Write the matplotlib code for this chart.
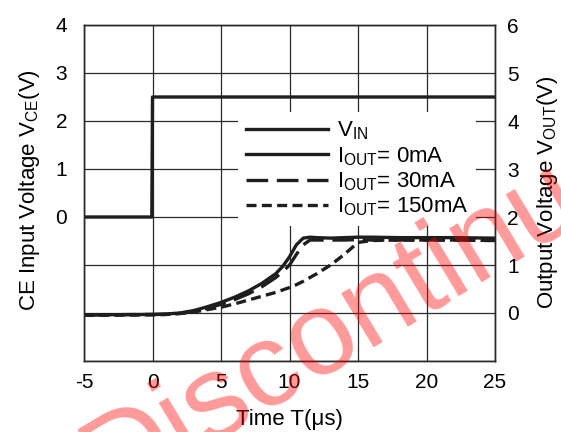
import matplotlib
matplotlib.use("Agg")
import matplotlib.pyplot as plt

plt.rcParams['font.family'] = ['Liberation Sans', 'DejaVu Sans']
plt.rcParams['mathtext.fontset'] = 'custom'
plt.rcParams['mathtext.rm'] = 'Liberation Sans'

# ---- data ----
t_vin = [-5, -0.05, 0.0, 25]
v_in = [0, 0, 2.5, 2.5]

t_out = [-5, 0, 1, 2, 3, 4, 5, 6, 7, 8, 9, 9.5, 10, 10.5, 11, 11.5, 12, 13, 14, 15, 16, 18, 20, 22, 25]
vout_0mA = [-0.04, -0.03, -0.02, 0.0, 0.05, 0.13, 0.22, 0.33, 0.46, 0.62, 0.82, 0.97, 1.17, 1.42, 1.56, 1.58,
            1.57, 1.56, 1.57, 1.58, 1.58, 1.57, 1.57, 1.57, 1.56]
vout_30mA = [-0.04, -0.03, -0.03, -0.01, 0.03, 0.10, 0.18, 0.28, 0.40, 0.55, 0.74, 0.86, 1.0, 1.22, 1.42, 1.52,
             1.52, 1.52, 1.52, 1.53, 1.52, 1.52, 1.52, 1.52, 1.51]
vout_150mA = [-0.05, -0.04, -0.03, -0.01, 0.02, 0.07, 0.12, 0.19, 0.27, 0.35, 0.43, 0.48, 0.53, 0.59, 0.66, 0.74,
              0.82, 1.0, 1.22, 1.47, 1.51, 1.52, 1.52, 1.52, 1.51]

x_ticks = [-5, 0, 5, 10, 15, 20, 25]
left_ticks = [-3, -2, -1, 0, 1, 2, 3, 4]
left_labels = ['', '', '', '0', '1', '2', '3', '4']
right_ticks = [-1, 0, 1, 2, 3, 4, 5, 6]
right_labels = ['', '0', '1', '2', '3', '4', '5', '6']

legend_labels = [r'V$_{\mathregular{IN}}$', r'I$_{\mathregular{OUT}}$= 0mA',
                 r'I$_{\mathregular{OUT}}$= 30mA', r'I$_{\mathregular{OUT}}$= 150mA']

# ---- figure ----
W, H = 561, 432
fig = plt.figure(figsize=(W / 100, H / 100), dpi=100)
ax = fig.add_axes([84 / W, 71 / H, 411 / W, 336 / H])
ax2 = ax.twinx()

lc = '#1e1e1e'
gc = '#2a2a2a'

ax.set_xlim(-5, 25)
ax.set_ylim(-3, 4)
ax2.set_ylim(-1, 6)
ax.set_xticks(x_ticks)
ax.set_xticklabels([str(v) for v in x_ticks])
ax.set_yticks(left_ticks)
ax.set_yticklabels(left_labels)
ax2.set_yticks(right_ticks)
ax2.set_yticklabels(right_labels)
ax.grid(True, color=gc, linewidth=0.9)
ax.set_axisbelow(True)
for a in (ax, ax2):
    a.tick_params(length=0, labelsize=15, colors='black')
    for s in a.spines.values():
        s.set_color(gc)
        s.set_linewidth(1.0)
ax.tick_params(axis='y', pad=12)
ax.tick_params(axis='x', pad=9)
ax2.tick_params(axis='y', pad=9)

lw = 2.4
h_vin, = ax.plot(t_vin, v_in, color=lc, lw=lw, solid_joinstyle='round')
h0, = ax2.plot(t_out, vout_0mA, color=lc, lw=lw, solid_joinstyle='round')
h30, = ax2.plot(t_out, vout_30mA, color=lc, lw=lw, linestyle=(0, (6.5, 2.6)))
h150, = ax2.plot(t_out, vout_150mA, color=lc, lw=lw, linestyle=(0, (3.0, 1.6)))

ax.set_xlabel(u'Time T(\u03bcs)', fontsize=16, labelpad=12)
fig.text(30 / W, 1 - 190 / H, r'CE Input Voltage V$_{\mathregular{CE}}$(V)', rotation=90,
         ha='center', va='center', fontsize=16)
fig.text(548 / W, 1 - 192 / H, r'Output Voltage V$_{\mathregular{OUT}}$(V)', rotation=90,
         ha='center', va='center', fontsize=16)

leg = ax2.legend([h_vin, h0, h30, h150], legend_labels, loc='upper left',
                 bbox_to_anchor=((238 - 84) / 411, (361 - 112) / 336),
                 borderaxespad=0, frameon=True, fancybox=False, framealpha=1,
                 edgecolor='none', fontsize=16, handlelength=3.7, handletextpad=0.4,
                 labelspacing=0.12, borderpad=0.35)

# watermark
fig.text(390 / W, 1 - 296 / H, 'Discontinued', rotation=31, rotation_mode='anchor',
         ha='center', va='center', fontsize=86, color='red', alpha=0.4, zorder=10)

fig.savefig('out.png', dpi=100)
